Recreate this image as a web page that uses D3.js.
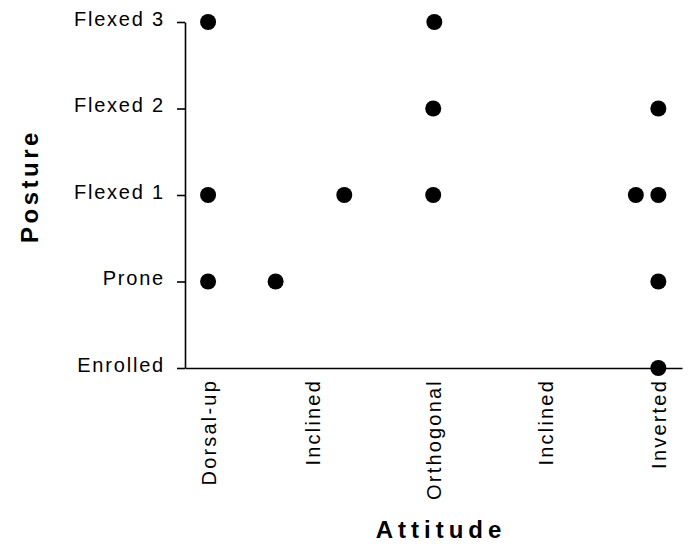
<html lang="en">
<head>
<meta charset="UTF-8">
<title>Posture vs attitude</title>
<style>
  body { margin: 0; background: #fff; }
  text { font-family: "Liberation Sans", Arial, Helvetica, sans-serif; fill: #000; }
</style>
</head>
<body>
<script src="https://d3js.org/d3.v7.min.js"></script>
<svg id="chart"></svg>
<script>
    // category labels
    var postures = ["Enrolled", "Prone", "Flexed 1", "Flexed 2", "Flexed 3"];
    var attitudes = ["Dorsal-up", "Inclined", "Orthogonal", "Inclined", "Inverted"];
    var attitudePos = [0, 0.93, 2, 3, 4];

    // observations: attitude position and posture index
    var obsAttitude = [0, 0, 0, 0.6, 1.21, 2.01, 2, 2, 3.8, 4, 4, 4, 4];
    var obsPosture  = [4, 2, 1, 1, 2, 4, 3, 2, 2, 3, 2, 1, 0];

    var outerWidth = 690, outerHeight = 548;
    var margin = {top: 22, right: 8, bottom: 180, left: 185},
        width = outerWidth - margin.left - margin.right,
        height = outerHeight - margin.top - margin.bottom;

    var svg = d3.select("#chart")
        .attr("width", outerWidth)
        .attr("height", outerHeight)
        .append("g")
            .attr("transform", `translate(${margin.left}, ${margin.top})`);

    var x = d3.scaleLinear().domain([-0.205, 4.21]).range([0, width]);
    var y = d3.scaleLinear().domain([0, 4]).range([height, 0]);

    // y axis
    var yAxis = svg.append("g")
        .call(d3.axisLeft(y)
            .tickValues(d3.range(postures.length))
            .tickFormat(i => postures[i])
            .tickSize(8)
            .tickSizeOuter(0)
            .tickPadding(12));
    yAxis.selectAll("path, line").attr("stroke", "#000").attr("stroke-width", 1.6);
    yAxis.selectAll("text")
        .style("font-size", "20px")
        .style("letter-spacing", "1.8px")
        .attr("dy", "0.15em");

    // x axis
    var xAxis = svg.append("g")
        .attr("transform", `translate(0, ${height})`)
        .call(d3.axisBottom(x)
            .tickValues(attitudePos)
            .tickFormat((d, i) => attitudes[i])
            .tickSize(0)
            .tickSizeOuter(0));
    xAxis.select("path").attr("stroke", "#000").attr("stroke-width", 1.6);
    xAxis.selectAll("text")
        .style("font-size", "20px")
        .style("letter-spacing", "2.2px")
        .attr("text-anchor", "end")
        .attr("transform", "rotate(-90)")
        .attr("x", -11)
        .attr("y", 0)
        .attr("dy", "0.35em");

    // points
    svg.append("g")
        .selectAll("circle")
        .data(d3.range(obsAttitude.length))
        .enter().append("circle")
            .attr("cx", i => x(obsAttitude[i]))
            .attr("cy", i => y(obsPosture[i]))
            .attr("r", 8)
            .attr("fill", "#000");

    // axis titles
    svg.append("text")
        .attr("transform", `translate(${-margin.left + 38}, ${height / 2 - 9}) rotate(-90)`)
        .attr("text-anchor", "middle")
        .style("font-size", "24px")
        .style("font-weight", "bold")
        .style("letter-spacing", "3.5px")
        .text("Posture");

    svg.append("text")
        .attr("x", 441 - margin.left)
        .attr("y", 538 - margin.top)
        .attr("text-anchor", "middle")
        .style("font-size", "24px")
        .style("font-weight", "bold")
        .style("letter-spacing", "5px")
        .text("Attitude");
</script>
</body>
</html>
